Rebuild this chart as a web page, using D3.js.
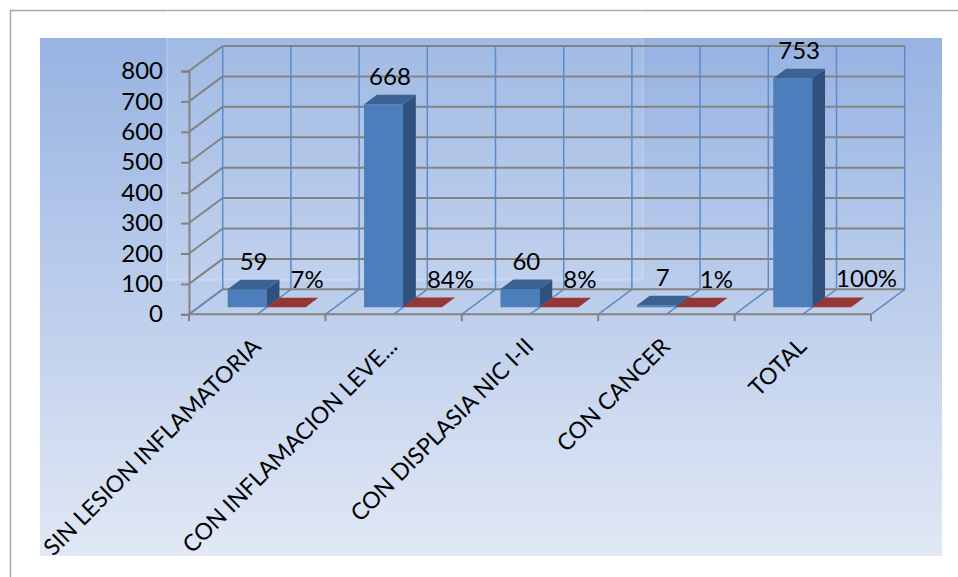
<!DOCTYPE html>
<html>
<head>
<meta charset="utf-8">
<script src="https://cdn.jsdelivr.net/npm/d3@7"></script>
<style>
  html, body { margin: 0; padding: 0; background: #ffffff; }
  svg { display: block; }
  text { font-family: Lato, "Open Sans", sans-serif; fill: #000; }
</style>
</head>
<body>
<svg id="chart" width="958" height="577"></svg>
<script>
// Categories and series
const categories = [
  "SIN LESION INFLAMATORIA",
  "CON INFLAMACION LEVE...",
  "CON DISPLASIA NIC I-II",
  "CON CANCER",
  "TOTAL"
];
const counts = [59, 668, 60, 7, 753];
const shares = [0.07, 0.84, 0.08, 0.01, 1.00];
const yTicks = [0, 100, 200, 300, 400, 500, 600, 700, 800];

const svg = d3.select("#chart");

// Page frame
svg.append("rect").attr("x", 10.5).attr("y", 10.5).attr("width", 1200).attr("height", 1200)
  .attr("fill", "#fff").attr("stroke", "#a6a6a6").attr("stroke-width", 1.5);

// Chart area with vertical gradient
const defs = svg.append("defs");
const grad = defs.append("linearGradient").attr("id", "bg").attr("x1", 0).attr("y1", 0).attr("x2", 0).attr("y2", 1);
grad.append("stop").attr("offset", "0%").attr("stop-color", "#97b3e2");
grad.append("stop").attr("offset", "100%").attr("stop-color", "#e1e8f5");
svg.append("rect").attr("x", 40).attr("y", 38).attr("width", 902).attr("height", 518).attr("fill", "url(#bg)");

// Faint watermark panel behind the plot
svg.append("rect").attr("x", 167).attr("y", 0).attr("width", 476).attr("height", 280)
  .attr("fill", "#ffffff").attr("fill-opacity", 0.1)
  .attr("stroke", "#ffffff").attr("stroke-opacity", 0.3);

// Scales and 3D projection
const x = d3.scaleBand().domain(categories).range([189, 871]).paddingInner(0).paddingOuter(0);
const y = d3.scaleLinear().domain([0, 800]).range([314.3, 71]);
const DX = 33.7, DY = -25;            // full depth offset of the walls
const proj = (px, v, t) => [px + DX * t, y(v) + DY * t];
const bw = x.bandwidth();
const barW = bw / 3.5;                // gap width 150%
const t0 = 0.28, t1 = 0.66;          // bar depth within the floor

const gray = "#838383", blueLine = "#5b8bc8";

const g = svg.append("g");

// Back wall horizontal gridlines
g.selectAll(".hgrid").data(yTicks).join("line")
  .attr("x1", proj(189, 0, 1)[0]).attr("x2", proj(871, 0, 1)[0])
  .attr("y1", d => proj(0, d, 1)[1]).attr("y2", d => proj(0, d, 1)[1])
  .attr("stroke", gray).attr("stroke-width", 2);

// Left side wall lines
g.selectAll(".sgrid").data(yTicks).join("line")
  .attr("x1", 189).attr("y1", d => y(d))
  .attr("x2", proj(189, 0, 1)[0]).attr("y2", d => proj(0, d, 1)[1])
  .attr("stroke", gray).attr("stroke-width", 2);

// Half-category positions for vertical gridlines
const halfSteps = d3.range(0, categories.length * 2 + 1).map(i => 189 + i * bw / 2);

// Back wall vertical gridlines
g.selectAll(".vgrid").data(halfSteps).join("line")
  .attr("x1", d => proj(d, 0, 1)[0]).attr("x2", d => proj(d, 0, 1)[0])
  .attr("y1", proj(0, 0, 1)[1]).attr("y2", proj(0, 800, 1)[1])
  .attr("stroke", blueLine).attr("stroke-width", 1.5);

// Floor lines from front to back
g.selectAll(".fgrid").data(halfSteps).join("line")
  .attr("x1", d => d).attr("y1", y(0))
  .attr("x2", d => proj(d, 0, 1)[0]).attr("y2", proj(0, 0, 1)[1])
  .attr("stroke", blueLine).attr("stroke-width", 1.5);

// Front floor edge (category axis) and ticks at category boundaries
g.append("line").attr("x1", 189).attr("x2", 871).attr("y1", y(0)).attr("y2", y(0))
  .attr("stroke", gray).attr("stroke-width", 2);
const bounds = categories.map(c => x(c)).concat([871]);
g.selectAll(".xtick").data(bounds).join("line")
  .attr("x1", d => d).attr("x2", d => d).attr("y1", y(0)).attr("y2", y(0) + 7)
  .attr("stroke", gray).attr("stroke-width", 2);

// Value axis
const yAxis = d3.axisLeft(y).tickValues(yTicks).tickSize(8).tickPadding(18).tickFormat(d3.format("d"));
const ya = svg.append("g").attr("transform", "translate(189,0)").call(yAxis);
ya.select(".domain").attr("stroke", gray).attr("stroke-width", 2);
ya.selectAll(".tick line").attr("stroke", gray).attr("stroke-width", 2);
ya.selectAll(".tick text").attr("font-size", 24).attr("font-family", "Lato, sans-serif").attr("fill", "#000");

// 3D bar faces
function barFaces(x0, x1, v) {
  const fbl = proj(x0, 0, t0), fbr = proj(x1, 0, t0);
  const ftl = proj(x0, v, t0), ftr = proj(x1, v, t0);
  const btl = proj(x0, v, t1), btr = proj(x1, v, t1);
  const bbr = proj(x1, 0, t1);
  const P = pts => pts.map(p => p.join(",")).join(" ");
  return {
    front: P([fbl, fbr, ftr, ftl]),
    top: P([ftl, ftr, btr, btl]),
    side: P([fbr, bbr, btr, ftr]),
    topCx: (ftl[0] + btr[0]) / 2,
    topBackY: btl[1]
  };
}

const bars = svg.append("g");
categories.forEach((c, i) => {
  const left = x(c) + (bw - 2 * barW) / 2;
  // Count series (blue)
  const b = barFaces(left, left + barW, counts[i]);
  bars.append("polygon").attr("points", b.front).attr("fill", "#4c7ebb");
  bars.append("polygon").attr("points", b.side).attr("fill", "#30517e");
  bars.append("polygon").attr("points", b.top).attr("fill", "#3b6293");
  svg.append("text").attr("x", b.topCx).attr("y", b.topBackY - 10)
    .attr("text-anchor", "middle").attr("font-size", 24).text(counts[i]);

  // Share series (red)
  const r = barFaces(left + barW, left + 2 * barW, shares[i]);
  bars.append("polygon").attr("points", r.front).attr("fill", "#a23d3a");
  bars.append("polygon").attr("points", r.side).attr("fill", "#6e2826");
  bars.append("polygon").attr("points", r.top).attr("fill", "#953735");
  svg.append("text").attr("x", r.topCx - 2).attr("y", r.topBackY - 10)
    .attr("text-anchor", "start").attr("font-size", 24).text(d3.format(".0%")(shares[i]));
});

// Rotated category labels
svg.selectAll(".cat").data(categories).join("text")
  .attr("transform", d => `translate(${x(d) + bw / 2 + 5},${348}) rotate(-45)`)
  .attr("text-anchor", "end").attr("font-size", 23).text(d => d);
</script>
</body>
</html>
